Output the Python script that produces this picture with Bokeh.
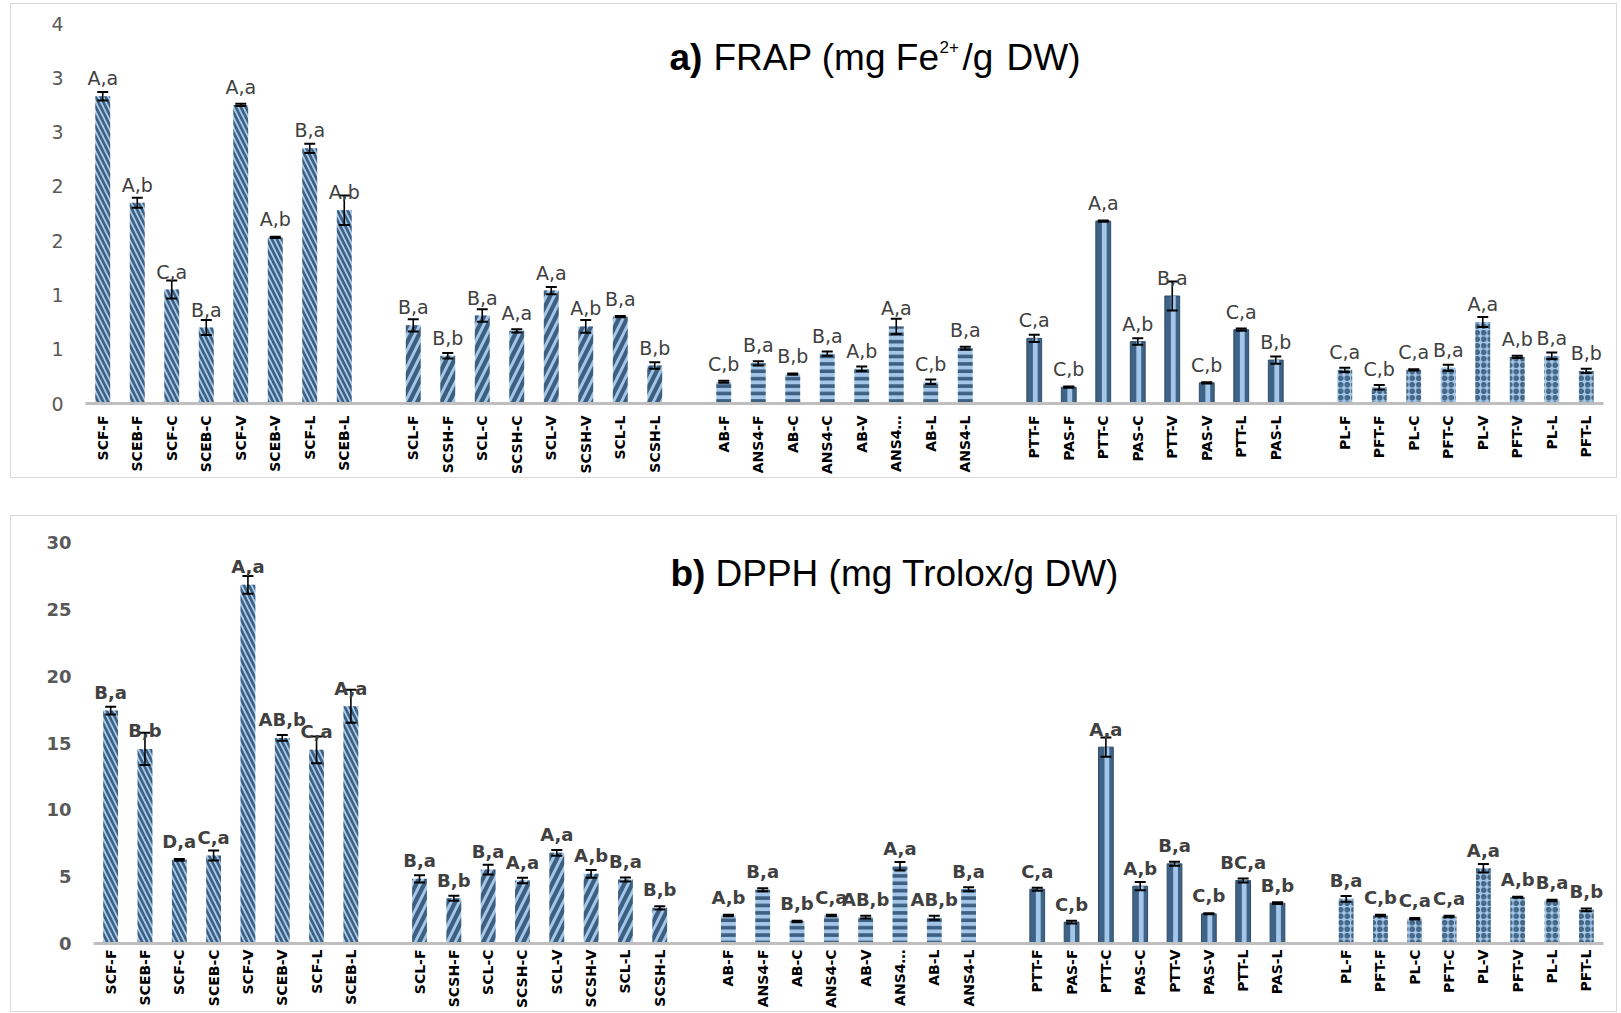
import math
from bokeh.plotting import figure
from bokeh.models import ColumnDataSource, Range1d, FixedTicker, Label
from bokeh.layouts import column
from bokeh.core.properties import value
from bokeh.transform import dodge
from bokeh.embed import file_html
from bokeh.resources import INLINE

# ---------------- data ----------------
labels_g1 = ["SCF-F", "SCEB-F", "SCF-C", "SCEB-C", "SCF-V", "SCEB-V", "SCF-L", "SCEB-L"]
labels_g2 = ["SCL-F", "SCSH-F", "SCL-C", "SCSH-C", "SCL-V", "SCSH-V", "SCL-L", "SCSH-L"]
labels_g3 = ["AB-F", "ANS4-F", "AB-C", "ANS4-C", "AB-V", "ANS4…", "AB-L", "ANS4-L"]
labels_g4 = ["PTT-F", "PAS-F", "PTT-C", "PAS-C", "PTT-V", "PAS-V", "PTT-L", "PAS-L"]
labels_g5 = ["PL-F", "PFT-F", "PL-C", "PFT-C", "PL-V", "PFT-V", "PL-L", "PFT-L"]
group_labels = [labels_g1, labels_g2, labels_g3, labels_g4, labels_g5]

frap = [2.83, 1.85, 1.05, 0.70, 2.75, 1.53, 2.35, 1.78,
        0.72, 0.44, 0.81, 0.67, 1.04, 0.71, 0.80, 0.35,
        0.20, 0.37, 0.27, 0.46, 0.32, 0.71, 0.20, 0.51,
        0.60, 0.15, 1.68, 0.57, 0.99, 0.19, 0.68, 0.40,
        0.31, 0.15, 0.31, 0.33, 0.75, 0.43, 0.44, 0.30]
frap_err = [0.04, 0.046, 0.084, 0.07, 0.01, 0.006, 0.043, 0.136,
            0.057, 0.026, 0.058, 0.015, 0.034, 0.058, 0.006, 0.03,
            0.01, 0.02, 0.006, 0.02, 0.02, 0.07, 0.02, 0.012,
            0.034, 0.006, 0.006, 0.03, 0.133, 0.006, 0.01, 0.034,
            0.02, 0.02, 0.006, 0.028, 0.046, 0.01, 0.03, 0.02]
frap_letters = ["A,a", "A,b", "C,a", "B,a", "A,a", "A,b", "B,a", "A,b",
                "B,a", "B,b", "B,a", "A,a", "A,a", "A,b", "B,a", "B,b",
                "C,b", "B,a", "B,b", "B,a", "A,b", "A,a", "C,b", "B,a",
                "C,a", "C,b", "A,a", "A,b", "B,a", "C,b", "C,a", "B,b",
                "C,a", "C,b", "C,a", "B,a", "A,a", "A,b", "B,a", "B,b"]

dpph = [17.43, 14.56, 6.26, 6.58, 26.83, 15.38, 14.49, 17.75,
        4.84, 3.39, 5.53, 4.71, 6.78, 5.21, 4.79, 2.67,
        2.09, 4.02, 1.65, 2.09, 1.97, 5.78, 1.92, 4.06,
        4.06, 1.60, 14.69, 4.29, 5.96, 2.22, 4.71, 3.02,
        3.34, 2.09, 1.85, 2.02, 5.63, 3.46, 3.22, 2.52]
dpph_err = [0.29, 1.2, 0.06, 0.37, 0.67, 0.22, 1.0, 1.23,
            0.27, 0.19, 0.37, 0.2, 0.22, 0.29, 0.15, 0.12,
            0.06, 0.12, 0.06, 0.06, 0.1, 0.31, 0.15, 0.15,
            0.12, 0.1, 0.72, 0.31, 0.15, 0.04, 0.15, 0.06,
            0.22, 0.06, 0.06, 0.06, 0.31, 0.04, 0.06, 0.1]
dpph_letters = ["B,a", "B,b", "D,a", "C,a", "A,a", "AB,b", "C,a", "A,a",
                "B,a", "B,b", "B,a", "A,a", "A,a", "A,b", "B,a", "B,b",
                "A,b", "B,a", "B,b", "C,a", "AB,b", "A,a", "AB,b", "B,a",
                "C,a", "C,b", "A,a", "A,b", "B,a", "C,b", "BC,a", "B,b",
                "B,a", "C,b", "C,a", "C,a", "A,a", "A,b", "B,a", "B,b"]

frap_ticks = [0, 0.5, 1, 1.5, 2, 2.5, 3, 3.5]
frap_tick_labels = ["0", "1", "1", "2", "2", "3", "3", "4"]
dpph_ticks = [0, 5, 10, 15, 20, 25, 30]
dpph_tick_labels = ["0", "5", "10", "15", "20", "25", "30"]

# ---------------- style ----------------
LIGHT = "#a4c6e8"
DARK = "#3d5f80"
BAR_W = 0.43
GROUP_SIZE = 8
GROUP_STEP = 9  # one empty slot between groups

group_styles = [
    dict(fill_color=LIGHT, hatch_pattern="left_diagonal_line", hatch_color=DARK, hatch_scale=10, hatch_weight=2.6),
    dict(fill_color=LIGHT, hatch_pattern="right_diagonal_line", hatch_color=DARK, hatch_scale=16, hatch_weight=4.2),
    dict(fill_color=LIGHT, hatch_pattern="horizontal_line", hatch_color=DARK, hatch_scale=7.4, hatch_weight=3.6),
    None,
    dict(fill_color=LIGHT, hatch_pattern="ring", hatch_color=DARK, hatch_scale=6.5, hatch_weight=2.2),
]


def slot_positions():
    xs = []
    for g in range(len(group_labels)):
        for i in range(GROUP_SIZE):
            xs.append(g * GROUP_STEP + i)
    return xs


def make_panel(vals, errs, letters, yticks, ytick_labels, width, height, borders,
               bold, title_parts, x_standoff, ann_size, ylab_size):
    xs = slot_positions()
    all_labels = [lab for grp in group_labels for lab in grp]
    n_slots = (len(group_labels) - 1) * GROUP_STEP + GROUP_SIZE
    p = figure(width=width, height=height,
               x_range=Range1d(-0.5, n_slots - 0.5),
               y_range=Range1d(yticks[0], yticks[-1]),
               output_backend="svg", toolbar_location=None,
               min_border_left=borders[0], min_border_right=borders[1],
               min_border_top=borders[2], min_border_bottom=borders[3])
    p.outline_line_color = None
    p.xgrid.grid_line_color = None
    p.ygrid.grid_line_color = None
    p.background_fill_color = "white"
    p.border_fill_color = "white"

    for g in range(len(group_labels)):
        sl = slice(g * GROUP_SIZE, (g + 1) * GROUP_SIZE)
        src = ColumnDataSource(dict(x=xs[sl], top=vals[sl]))
        st = group_styles[g]
        if st is None:
            p.vbar(x="x", top="top", width=BAR_W, source=src, fill_color="#3e6387",
                   line_color="#2f4d6b", line_width=1)
            p.vbar(x=dodge("x", 0.03), top="top", width=0.14, source=src,
                   fill_color=LIGHT, line_color=None)
        else:
            p.vbar(x="x", top="top", width=BAR_W, source=src, line_color=None, **st)

    upper = [v + e for v, e in zip(vals, errs)]
    lower = [v - e for v, e in zip(vals, errs)]
    esrc = ColumnDataSource(dict(x=xs, upper=upper, lower=lower, top=vals, lab=letters))
    p.segment(x0="x", y0="lower", x1="x", y1="upper", source=esrc,
              line_color="black", line_width=1.6)
    p.scatter(x="x", y="upper", marker="dash", size=11, source=esrc,
              line_color="black", line_width=2)
    p.scatter(x="x", y="lower", marker="dash", size=11, source=esrc,
              line_color="black", line_width=2)

    p.text(x="x", y="top", text="lab", source=esrc, text_align="center",
           text_baseline="alphabetic", y_offset=-18,
           text_font=value("DejaVu Sans"), text_font_size=ann_size,
           text_font_style="bold" if bold else "normal", text_color="#404040")

    # x axis
    xa = p.xaxis[0]
    xa.ticker = FixedTicker(ticks=xs)
    xa.major_label_overrides = {x: lab for x, lab in zip(xs, all_labels)}
    xa.major_label_orientation = math.pi / 2
    xa.major_label_text_font = "DejaVu Sans"
    xa.major_label_text_font_style = "bold"
    xa.major_label_text_font_size = "14px"
    xa.major_label_text_color = "black"
    xa.major_label_standoff = x_standoff
    xa.major_tick_line_color = None
    xa.minor_tick_line_color = None
    xa.major_tick_out = 0
    xa.major_tick_in = 0
    xa.minor_tick_out = 0
    xa.minor_tick_in = 0
    xa.axis_line_color = "#bfbfbf"
    xa.axis_line_width = 3

    # y axis
    ya = p.yaxis[0]
    ya.ticker = FixedTicker(ticks=yticks)
    ya.major_label_overrides = {t: lab for t, lab in zip(yticks, ytick_labels)}
    ya.major_label_text_font = "DejaVu Sans"
    ya.major_label_text_font_style = "bold" if bold else "normal"
    ya.major_label_text_font_size = ylab_size
    ya.major_label_text_color = "#595959"
    ya.major_label_standoff = 22
    ya.axis_line_color = None
    ya.major_tick_line_color = None
    ya.minor_tick_line_color = None
    ya.major_tick_out = 0
    ya.major_tick_in = 0
    ya.minor_tick_out = 0
    ya.minor_tick_in = 0

    for txt, sx, sy, size, style in title_parts:
        p.add_layout(Label(x=sx, y=sy, x_units="screen", y_units="screen", text=txt,
                           text_font="Liberation Sans", text_font_size=size,
                           text_font_style=style, text_color="black",
                           text_align="left", text_baseline="alphabetic"))
    return p


title_a = [("a)", 584, 346, "37px", "bold"),
           ("FRAP (mg Fe", 628, 346, "37px", "normal"),
           ("2+", 854, 357, "17px", "normal"),
           ("/g", 877, 346, "37px", "normal"),
           ("DW)", 921, 346, "37px", "normal")]
title_b = [("b)", 577, 370, "37px", "bold"),
           ("DPPH (mg Trolox/g DW)", 622, 370, "37px", "normal")]

pa = make_panel(frap, frap_err, frap_letters, frap_ticks, frap_tick_labels,
                1605, 473, (74, 13, 19, 73), False, title_a, 12, "19px", "19px")
pb = make_panel(dpph, dpph_err, dpph_letters, dpph_ticks, dpph_tick_labels,
                1605, 495, (82, 13, 26, 68), True, title_b, 6, "18px", "18px")

box_a = column(pa, styles={"border": "1px solid #d9d9d9"}, margin=(3, 0, 0, 10))
box_b = column(pb, styles={"border": "1px solid #d9d9d9"}, margin=(37, 0, 0, 10))
layout = column(box_a, box_b)

open("out.html", "w").write(file_html(layout, INLINE))
